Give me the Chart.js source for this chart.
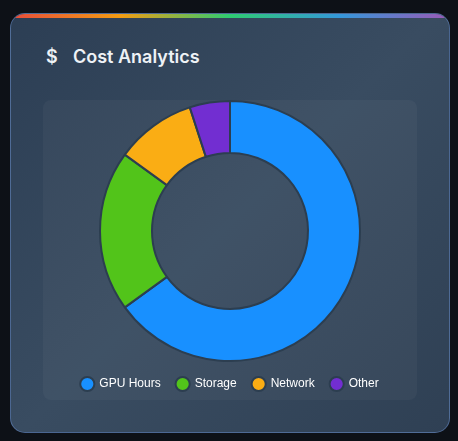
<!DOCTYPE html>
<html>
<head>
<meta charset="utf-8">
<script src="https://cdn.jsdelivr.net/npm/chart.js@4.4.0/dist/chart.umd.min.js"></script>
<style>
  html, body { margin: 0; padding: 0; background: #0d1117; width: 458px; height: 441px; overflow: hidden; }
  .card {
    position: absolute; left: 10px; top: 13px; width: 438px; height: 418px;
    border: 1px solid rgba(110, 150, 220, 0.45);
    border-radius: 15px; overflow: hidden;
    background: linear-gradient(135deg, #2c3e54 0%, #394c61 50%, #2f4054 100%);
  }
  .card::before {
    content: ""; position: absolute; left: 0; top: 0; right: 0; height: 4px;
    background: linear-gradient(90deg, #e74c3c, #f39c12, #2ecc71, #3498db, #9b59b6);
  }
  .title {
    position: absolute; left: 35px; top: 32px; color: #eef2f6;
    font-family: Inter, "Noto Sans", sans-serif; font-weight: 600; font-size: 18px;
    white-space: nowrap;
  }
  .title .icon { display: inline-block; width: 27px; }
  .panel {
    position: absolute; left: 32px; top: 86px; width: 374px; height: 300px;
    background: rgba(255,255,255,0.035); border-radius: 8px;
  }
  .wrap { position: absolute; left: 43px; top: 100px; width: 374px; height: 300px; }
</style>
</head>
<body>
<div class="card">
  <div class="title"><span class="icon">$</span>Cost Analytics</div>
  <div class="panel"></div>
</div>
<div class="wrap"><canvas id="c"></canvas></div>
<script>
const categories = ["GPU Hours", "Storage", "Network", "Other"];
const costValues = [65, 20, 10, 5];
const sliceColors = ["#1890ff", "#52c41a", "#faad14", "#722ed1"];

Chart.defaults.font.family = '"Liberation Sans", Arial, Helvetica, sans-serif';
new Chart(document.getElementById('c'), {
  type: 'doughnut',
  data: {
    labels: categories,
    datasets: [{
      data: costValues,
      backgroundColor: sliceColors,
      borderColor: '#2c3e50',
      borderWidth: 2
    }]
  },
  options: {
    responsive: true,
    maintainAspectRatio: false,
    animation: false,
    cutout: '60%',
    layout: { padding: 0 },
    plugins: {
      tooltip: { enabled: false },
      legend: {
        position: 'bottom',
        labels: {
          color: '#ffffff',
          font: { size: 12 },
          usePointStyle: true,
          pointStyle: 'circle',
          boxWidth: 12,
          boxHeight: 10,
          padding: 16
        }
      }
    }
  }
});
</script>
</body>
</html>
